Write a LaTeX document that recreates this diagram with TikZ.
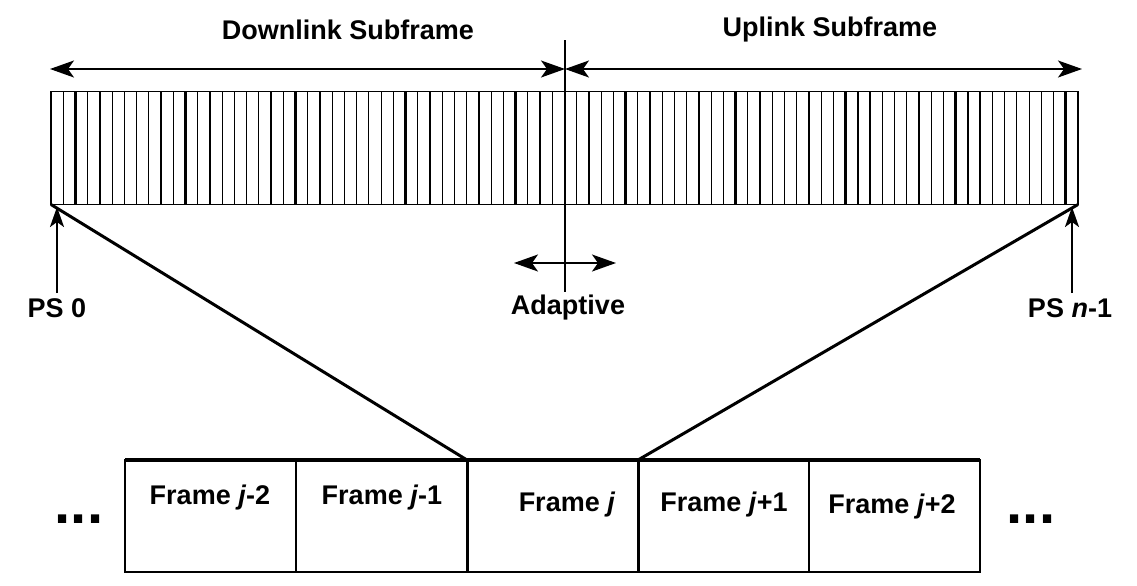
\documentclass[tikz,border=0pt]{standalone}
\usepackage{fontspec}
\setmainfont{Liberation Sans}
\usetikzlibrary{arrows.meta}
\tikzset{
  lbl/.style={font=\bfseries\fontsize{13.5}{16}\selectfont, inner sep=0pt},
  dots/.style={font=\bfseries\fontsize{29}{32}\selectfont, inner sep=0pt},
  framebox/.style={draw, line width=0.9pt, minimum width=85.5pt, minimum height=56pt, inner sep=0pt, outer sep=0pt, anchor=north west},
  tip/.style={Stealth[length=12pt,width=8.5pt,inset=3pt]},
  arr/.style={line width=0.8pt, {Stealth[length=12pt,width=8.5pt,inset=3pt]}-{Stealth[length=12pt,width=8.5pt,inset=3pt]}},
  uparr/.style={line width=1.2pt, -{Stealth[length=10pt,width=7pt,inset=2.5pt]}},
  fan/.style={line width=1.5pt},
  slotline/.style={line width=0.6pt},
  thickslot/.style={line width=1.3pt}
}
\begin{document}
\begin{tikzpicture}[x=0.5pt,y=-0.5pt]
\useasboundingbox[fill=white] (0,0) rectangle (1137,585);
% slot bar
\node[draw, line width=0.9pt, minimum width=513.5pt, minimum height=56.5pt, inner sep=0pt, outer sep=0pt] (bar) at (564.5,148) {};
\foreach \k in {1,...,83}{
  \draw[slotline] ({51+\k*12.2262},91) -- ({51+\k*12.2262},205);
}
\foreach \k in {2,11,20,29,38,47,56,58,65,67,74,76,83}{
  \draw[thickslot] ({51+\k*12.2262},91) -- ({51+\k*12.2262},205);
}
% centre divider
\coordinate (ctop) at (565,40);
\coordinate (cbot) at (565,292);
\draw[line width=0.8pt] (ctop) -- (cbot);
% top arrows
\coordinate (tl) at (50,69);
\coordinate (tm) at (565,69);
\coordinate (tr) at (1082,69);
\draw[arr] (tl) -- (tm);
\draw[arr] (tm) -- (tr);
\node[lbl] (dl) at (348,30) {Downlink Subframe};
\node[lbl] (ul) at (830,30) {Uplink Subframe};
% adaptive
\coordinate (al) at (514,263);
\coordinate (ar) at (616,263);
\draw[arr] (al) -- (ar);
\node[lbl] (adp) at (568,308) {Adaptive};
% PS labels
\node[lbl] (ps0) at (57,308) {PS 0};
\node[lbl] (psn) at (1070,308) {PS \textit{n}-1};
\coordinate (ps0t) at (57,207);
\coordinate (psnt) at (1072,207);
\draw[uparr] (57,293) -- (ps0t);
\draw[uparr] (1072,293) -- (psnt);
% frames
\node[framebox] (f1) at (125,460) {};
\node[framebox] (f2) at (296,460) {};
\node[framebox] (f3) at (467,460) {};
\node[framebox] (f4) at (638,460) {};
\node[framebox] (f5) at (809,460) {};
\draw[line width=1.8pt] (f1.north west) -- (f5.north east);
\draw[line width=1.5pt] (f3.north west) -- (f3.south west);
\draw[line width=1.5pt] (f4.north west) -- (f4.south west);
\node[lbl] (t1) at (210,498) {Frame \textit{j}-2};
\node[lbl] (t2) at (382,498) {Frame \textit{j}-1};
\node[lbl] (t3) at (567,505) {Frame \textit{j}};
\node[lbl] (t4) at (724,505) {Frame \textit{j}+1};
\node[lbl] (t5) at (892,507) {Frame \textit{j}+2};
\node[dots] (d1) at (79,519) {...};
\node[dots] (d2) at (1031,519) {...};
% fan lines
\draw[fan] (bar.south west) -- (f3.north west);
\draw[fan] (bar.south east) -- (f4.north west);
\end{tikzpicture}
\end{document}
